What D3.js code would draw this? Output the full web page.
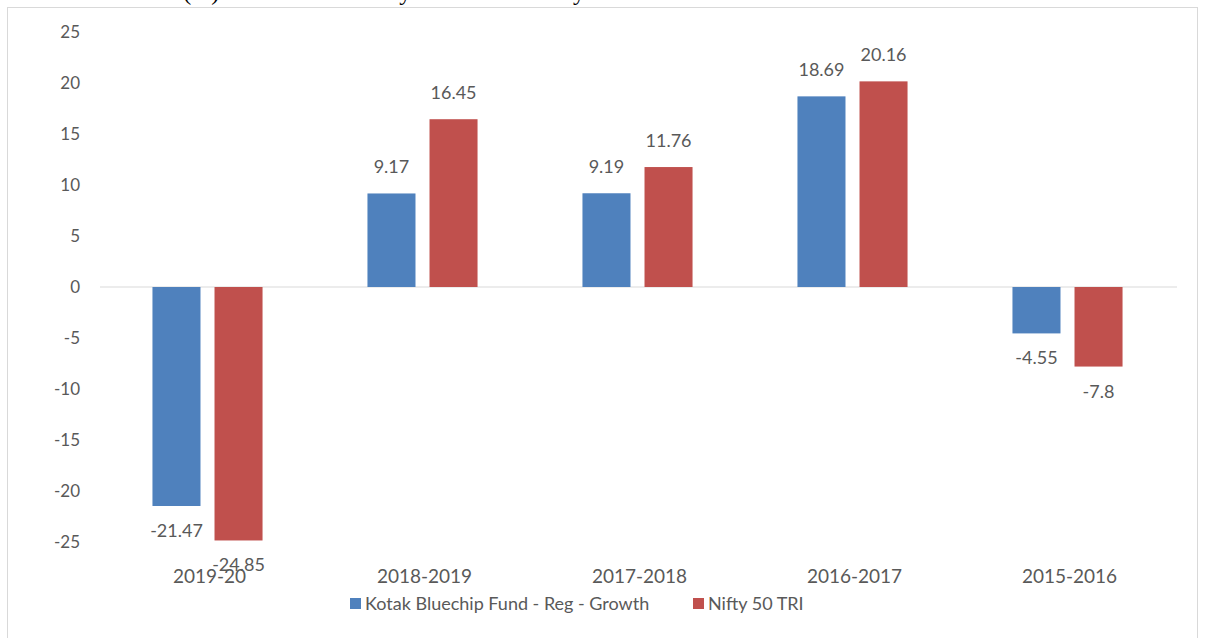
<!DOCTYPE html>
<html>
<head>
<meta charset="utf-8">
<script src="https://cdn.jsdelivr.net/npm/d3@7"></script>
<style>
  body { margin: 0; background: #fff; }
  svg { display: block; }
</style>
</head>
<body>
<div id="chart"></div>
<script>
// Data
const years = ["2019-20", "2018-2019", "2017-2018", "2016-2017", "2015-2016"];
const seriesNames = ["Kotak Bluechip Fund - Reg - Growth", "Nifty 50 TRI"];
const fundValues = [-21.47, 9.17, 9.19, 18.69, -4.55];
const niftyValues = [-24.85, 16.45, 11.76, 20.16, -7.8];
const yTicks = [25, 20, 15, 10, 5, 0, -5, -10, -15, -20, -25];
const colors = ["#4F81BD", "#C0504D"];

const W = 1205, H = 638;
const svg = d3.select("#chart").append("svg")
    .attr("width", W)
    .attr("height", H);

// Title, cropped at the top edge as in the source image
svg.append("text")
    .attr("x", 10)
    .attr("y", 0)
    .attr("font-family", "'Liberation Serif', 'Times New Roman', serif")
    .attr("font-size", "24px")
    .attr("fill", "#000")
    .text("Absolute Returns (%) for each financial year for the last 5 years");

// Chart frame
svg.append("rect")
    .attr("x", 7.5)
    .attr("y", 7.5)
    .attr("width", 1190)
    .attr("height", 660)
    .attr("fill", "none")
    .attr("stroke", "#d9d9d9");

const font = "Lato, 'Open Sans', sans-serif";
const textColor = "#595959";

// Scales
const x0 = d3.scaleBand()
    .domain(years)
    .range([100, 1175])
    .paddingInner(0.488)
    .paddingOuter(0.244);

const x1 = d3.scaleBand()
    .domain(seriesNames)
    .range([0, x0.bandwidth()])
    .paddingInner(0.226);

const y = d3.scaleLinear()
    .domain([-25, 25])
    .range([542, 32]);

// Y axis labels (no line)
const yAxis = svg.append("g")
    .attr("transform", "translate(80,0)")
    .call(d3.axisLeft(y).tickValues(yTicks).tickSize(0).tickPadding(0).tickFormat(d => String(d)));
yAxis.select(".domain").remove();
yAxis.selectAll("text")
    .attr("font-family", font)
    .attr("font-size", "17px")
    .attr("fill", textColor);

// Zero line
svg.append("line")
    .attr("x1", 100)
    .attr("x2", 1177)
    .attr("y1", y(0))
    .attr("y2", y(0))
    .attr("stroke", "#d9d9d9")
    .attr("stroke-width", 1);

// Bars
const rows = years.map((yr, i) => ({
    year: yr,
    values: [
        { name: seriesNames[0], value: fundValues[i], color: colors[0] },
        { name: seriesNames[1], value: niftyValues[i], color: colors[1] }
    ]
}));

const groups = svg.selectAll(".group")
    .data(rows)
    .enter().append("g")
    .attr("class", "group")
    .attr("transform", d => "translate(" + x0(d.year) + ",0)");

groups.selectAll("rect")
    .data(d => d.values)
    .enter().append("rect")
    .attr("x", d => x1(d.name))
    .attr("y", d => y(Math.max(0, d.value)))
    .attr("width", x1.bandwidth())
    .attr("height", d => Math.abs(y(d.value) - y(0)))
    .attr("fill", d => d.color);

// Data labels
groups.selectAll(".lbl")
    .data(d => d.values)
    .enter().append("text")
    .attr("class", "lbl")
    .attr("x", d => x1(d.name) + x1.bandwidth() / 2)
    .attr("y", d => d.value >= 0 ? y(d.value) - 20 : y(d.value) + 31)
    .attr("text-anchor", "middle")
    .attr("font-family", font)
    .attr("font-size", "18px")
    .attr("fill", textColor)
    .text(d => d.value);

// Category labels
svg.selectAll(".cat")
    .data(years)
    .enter().append("text")
    .attr("class", "cat")
    .attr("x", d => x0(d) + x0.bandwidth() / 2 + 2)
    .attr("y", 583)
    .attr("text-anchor", "middle")
    .attr("font-family", font)
    .attr("font-size", "19px")
    .attr("fill", textColor)
    .text(d => d);

// Legend
const legendX = [350, 693];
const legend = svg.selectAll(".legend")
    .data(seriesNames)
    .enter().append("g")
    .attr("class", "legend")
    .attr("transform", (d, i) => "translate(" + legendX[i] + ",598)");

legend.append("rect")
    .attr("width", 11)
    .attr("height", 11)
    .attr("fill", (d, i) => colors[i]);

legend.append("text")
    .attr("x", 15)
    .attr("y", 12)
    .attr("font-family", font)
    .attr("font-size", "18px")
    .attr("fill", textColor)
    .text(d => d);
</script>
</body>
</html>
